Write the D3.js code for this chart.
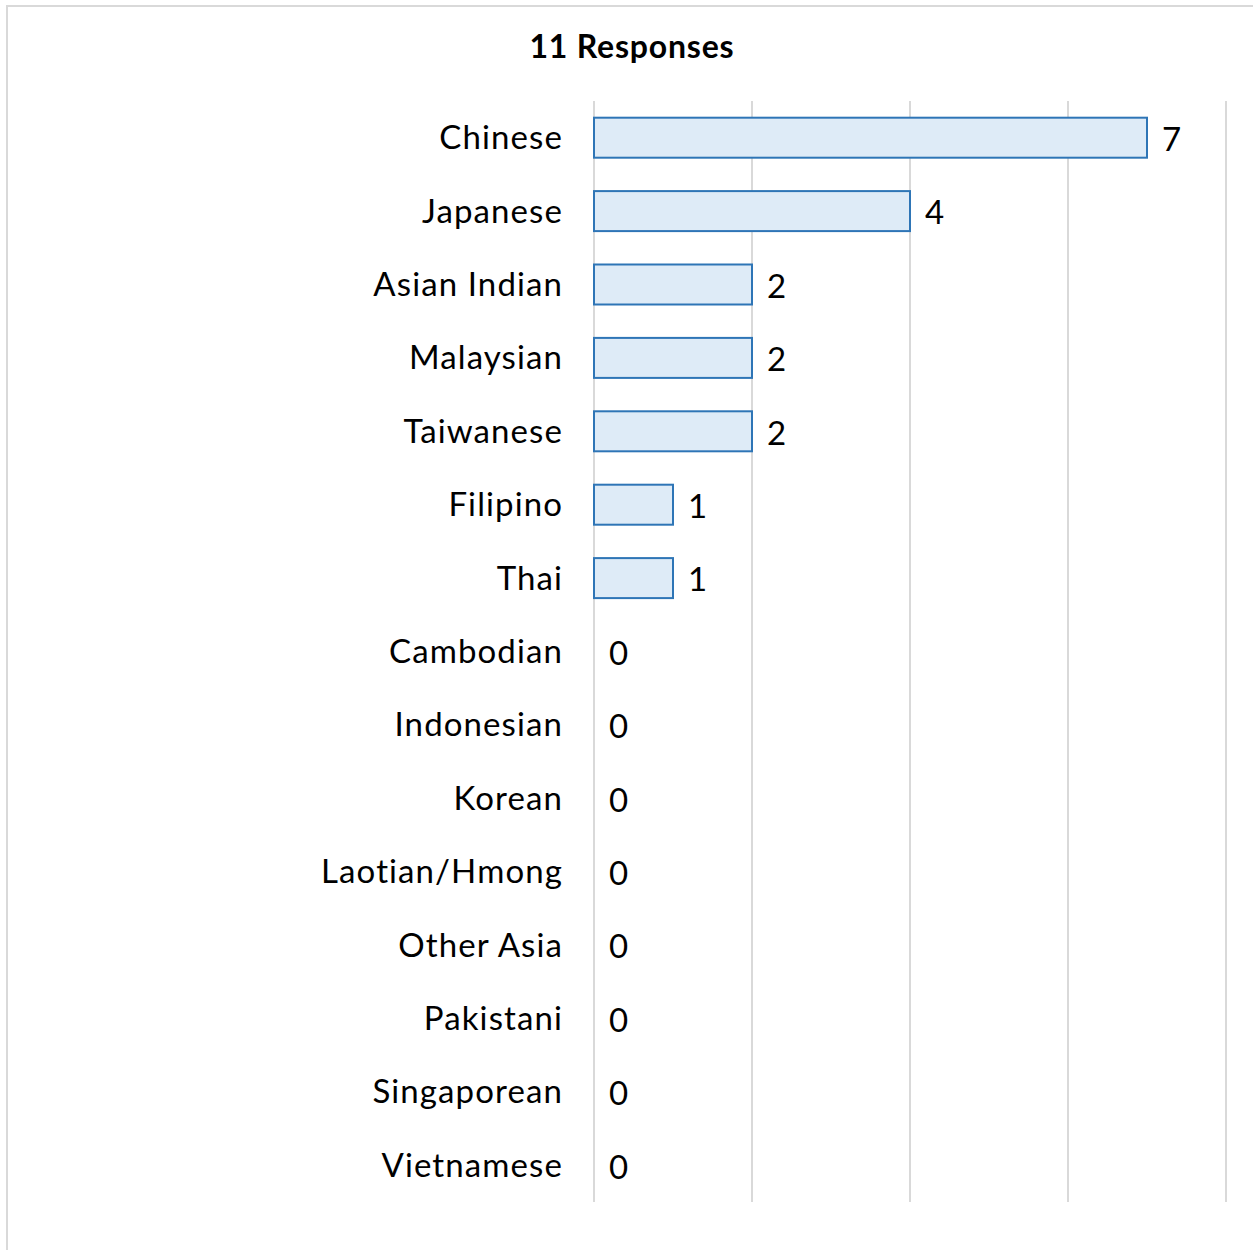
<!DOCTYPE html>
<html>
<head>
<meta charset="utf-8">
<script src="https://cdn.jsdelivr.net/npm/d3@7"></script>
<style>
  html, body { margin: 0; padding: 0; background: #fff; }
  svg { display: block; }
</style>
</head>
<body>
<svg id="chart" width="1253" height="1250"></svg>
<script>
// Responses by Asian origin
const categories = ["Chinese", "Japanese", "Asian Indian", "Malaysian", "Taiwanese", "Filipino", "Thai",
  "Cambodian", "Indonesian", "Korean", "Laotian/Hmong", "Other Asia", "Pakistani", "Singaporean", "Vietnamese"];
const counts = [7, 4, 2, 2, 2, 1, 1, 0, 0, 0, 0, 0, 0, 0, 0];
const gridTicks = [0, 2, 4, 6, 8];
const titleText = "11 Responses";

const svg = d3.select("#chart");
const W = 1253, H = 1250;
const font = "Lato, 'Open Sans', sans-serif";

// chart frame
svg.append("rect")
  .attr("x", 7).attr("y", 6)
  .attr("width", W + 10).attr("height", H + 10)
  .attr("fill", "#fff").attr("stroke", "#d9d9d9").attr("stroke-width", 2);

const x = d3.scaleLinear().domain([0, 8]).range([594, 1226]);
const y = d3.scaleBand().domain(categories).range([101, 1202]).paddingInner(0.455).paddingOuter(0.2275);

// vertical gridlines
svg.append("g").selectAll("line").data(gridTicks).join("line")
  .attr("x1", d => x(d)).attr("x2", d => x(d))
  .attr("y1", 101).attr("y2", 1202)
  .attr("stroke", "#d9d9d9").attr("stroke-width", 2);

// bars
svg.append("g").selectAll("rect").data(categories).join("rect")
  .attr("x", x(0))
  .attr("y", d => y(d))
  .attr("width", (d, i) => x(counts[i]) - x(0))
  .attr("height", y.bandwidth())
  .attr("fill", "#deebf7")
  .attr("stroke", "#2e75b6")
  .attr("stroke-width", 2)
  .attr("display", (d, i) => counts[i] > 0 ? null : "none");

// category labels
svg.append("g").selectAll("text").data(categories).join("text")
  .attr("x", 563)
  .attr("y", d => y(d) + y.bandwidth() / 2)
  .attr("dy", "0.35em")
  .attr("text-anchor", "end")
  .attr("font-family", font)
  .attr("font-size", 33)
  .attr("letter-spacing", 1.1)
  .attr("fill", "#000")
  .text(d => d);

// value labels
svg.append("g").selectAll("text").data(categories).join("text")
  .attr("x", (d, i) => x(counts[i]) + 15)
  .attr("y", d => y(d) + y.bandwidth() / 2)
  .attr("dy", "0.4em")
  .attr("text-anchor", "start")
  .attr("font-family", font)
  .attr("font-size", 33)
  .attr("fill", "#000")
  .text((d, i) => counts[i]);

// title
svg.append("text")
  .attr("x", 632).attr("y", 58)
  .attr("text-anchor", "middle")
  .attr("font-family", font)
  .attr("font-weight", "bold")
  .attr("font-size", 32)
  .attr("letter-spacing", 0.8)
  .attr("fill", "#000")
  .text(titleText);
</script>
</body>
</html>
